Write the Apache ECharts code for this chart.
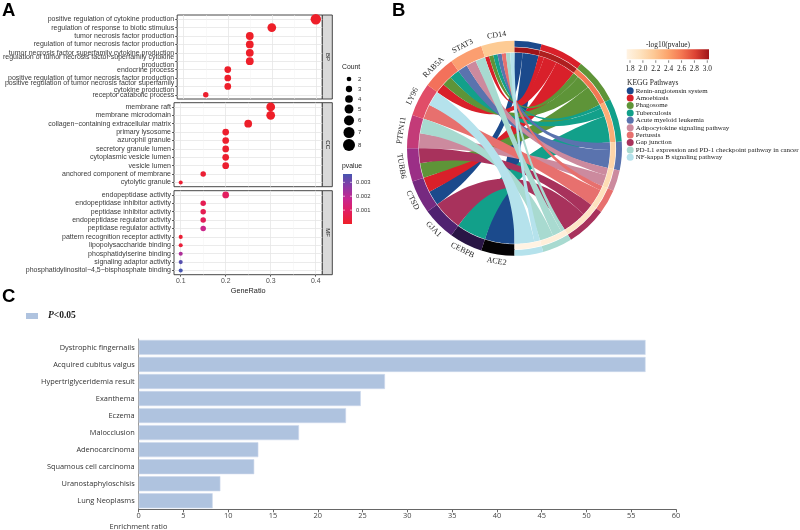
<!DOCTYPE html>
<html><head><meta charset="utf-8">
<script src="https://cdn.jsdelivr.net/npm/echarts@6/dist/echarts.min.js"></script>
<style>html,body{margin:0;padding:0;background:#fff}#c{width:800px;height:530px}</style>
</head><body><div id="c"></div>
<script>
// ================= Panel A data (GO enrichment dot plot) =================
const bpTerms = ['positive regulation of cytokine production','regulation of response to biotic stimulus','tumor necrosis factor production','regulation of tumor necrosis factor production','tumor necrosis factor superfamily cytokine production','regulation of tumor necrosis factor superfamily cytokine\nproduction','endocrine process','positive regulation of tumor necrosis factor production','positive regulation of tumor necrosis factor superfamily\ncytokine production','receptor catabolic process'];
const bpRatio = [0.4,0.3,0.25,0.25,0.25,0.25,0.2,0.2,0.2,0.15];
const bpCount = [8,6,5,5,5,5,4,4,4,3];
const bpP = [0.00001,0.00002,0.00002,0.00002,0.00003,0.00003,0.00004,0.00005,0.00005,0.0001];

const ccTerms = ['membrane raft','membrane microdomain','collagen\u2212containing extracellular matrix','primary lysosome','azurophil granule','secretory granule lumen','cytoplasmic vesicle lumen','vesicle lumen','anchored component of membrane','cytolytic granule'];
const ccRatio = [0.3,0.3,0.25,0.2,0.2,0.2,0.2,0.2,0.15,0.1];
const ccCount = [6,6,5,4,4,4,4,4,3,2];
const ccP = [0.00002,0.00002,0.00004,0.0001,0.0001,0.00012,0.00012,0.00013,0.0002,0.0002];

const mfTerms = ['endopeptidase activity','endopeptidase inhibitor activity','peptidase inhibitor activity','endopeptidase regulator activity','peptidase regulator activity','pattern recognition receptor activity','lipopolysaccharide binding','phosphatidylserine binding','signaling adaptor activity','phosphatidylinositol\u22124,5\u2212bisphosphate binding'];
const mfRatio = [0.2,0.15,0.15,0.15,0.15,0.1,0.1,0.1,0.1,0.1];
const mfCount = [4,3,3,3,3,2,2,2,2,2];
const mfP = [0.0009,0.0007,0.0007,0.0008,0.0017,0.0002,0.0003,0.0022,0.0034,0.0036];

const facetNames = ['BP','CC','MF'];
const geneRatioTicks = [0.1,0.2,0.3,0.4];
const geneRatioMinor = [0.15,0.25,0.35];
const countLegend = [2,3,4,5,6,7,8];
const pLegendTicks = [0.001,0.002,0.003];

// ================= Panel B data (KEGG chord) =================
const pathways = ['Renin-angiotensin system','Amoebiasis','Phagosome','Tuberculosis','Acute myeloid leukemia','Adipocytokine signaling pathway','Pertussis','Gap junction','PD-L1 expression and PD-1 checkpoint pathway in cancer','NF-kappa B signaling pathway'];
const pathwayColors = ['#1B4A8C','#D9202A','#5E9438','#12A08A','#5A73AE','#CC8A9E','#E7706E','#A8325C','#A8DAD0','#B5E2EC'];
const pathwaySize = [0.81,1.31,1.37,1.31,0.86,0.63,0.73,1.22,0.90,0.86];
const pathwayLogP = [3.0,2.95,2.6,2.35,2.1,2.05,2.0,1.95,1.85,1.8];
const genes = ['CD14','STAT3','RAB5A','LY96','PTPN11','TUBB6','CTSD','GJA1','CEBPB','ACE2'];
const geneColors = ['#FDCB94','#FB9E70','#F3715B','#E14D68','#C33B78','#9B2F86','#762A80','#4F2170','#291545','#050305'];
const geneSize = [1,1,1,1,1,1,1,1,1,1];
// pathway indices linked to each gene
const geneLinks = [[1,2,3,4,6,8,9],[4,5,8],[1,2,3],[6,9],[5,8],[2,7],[0,1],[7],[3],[0]];
const logPTicks = [1.8,2.0,2.2,2.4,2.6,2.8,3.0];

// ================= Panel C data (disease enrichment bars) =================
const diseases = ['Dystrophic fingernails','Acquired cubitus valgus','Hypertriglyceridemia result','Exanthema','Eczema','Malocclusion','Adenocarcinoma','Squamous cell carcinoma','Uranostaphyloschisis','Lung Neoplasms'];
const enrichment = [56.6,56.6,27.5,24.8,23.15,17.9,13.36,12.9,9.12,8.26];

// ---------------- helpers ----------------
function hex2rgb(h){h=h.replace('#','');return [parseInt(h.substr(0,2),16),parseInt(h.substr(2,2),16),parseInt(h.substr(4,2),16)];}
function lerpColor(stops, t){
  t=Math.max(0,Math.min(1,t)); const n=stops.length-1; const i=Math.min(n-1,Math.floor(t*n)); const f=t*n-i;
  const a=hex2rgb(stops[i]), b=hex2rgb(stops[i+1]);
  return 'rgb('+a.map((v,k)=>Math.round(v+(b[k]-v)*f)).join(',')+')';
}
const logPColors = ['#FFF3E3','#FEE2BE','#FDC894','#FCA46C','#F47752','#DC4234','#9F1418'];
const logPMin = 1.8, logPMax = 3.0;
const pColors = ['#EE1F28','#E21E5F','#C8278F','#8C3AA6','#4755B0'];
const pMin = 0, pMax = 0.0036;
function dotSize(c){return 4.5*Math.sqrt(c)-2.3;}

// ---------------- panel A layout ----------------
const A_LEFT=174, A_RIGHT=322.3, A_TOPS=[15,102.7,190.7], A_H=84;
const xMin=0.0851, xMax=0.4147;
const grids=[], xAxes=[], yAxes=[], series=[];
const termsAll=[bpTerms,ccTerms,mfTerms], ratioAll=[bpRatio,ccRatio,mfRatio], countAll=[bpCount,ccCount,mfCount], pAll=[bpP,ccP,mfP];
for(let i=0;i<3;i++){
  grids.push({left:A_LEFT, top:A_TOPS[i], width:A_RIGHT-A_LEFT, height:A_H, show:true, borderColor:'#333', borderWidth:0.9, backgroundColor:'#fff'});
  xAxes.push({gridIndex:i, type:'value', min:xMin, max:xMax, position:'bottom',
    axisLine:{show:false},
    axisTick:{show:i===2, length:2, customValues:geneRatioTicks, lineStyle:{color:'#333',width:0.8}},
    axisLabel:{show:i===2, customValues:geneRatioTicks, fontSize:6.9, color:'#4D4D4D', margin:3, fontFamily:'Liberation Sans', formatter:v=>v.toFixed(1)},
    splitLine:{show:true, lineStyle:{color:'#E6E6E6', width:0.8}},
    name: i===2?'GeneRatio':'', nameLocation:'middle', nameGap:13, nameTextStyle:{fontSize:7.3, color:'#222', fontFamily:'Liberation Sans'}
  });
  xAxes.push({gridIndex:i, type:'value', min:xMin, max:xMax, position:'top', show:true,
    axisLine:{show:false}, axisTick:{show:false, customValues:geneRatioMinor}, axisLabel:{show:false, customValues:geneRatioMinor},
    splitLine:{show:true, lineStyle:{color:'#F3F3F3', width:0.5}}
  });
  yAxes.push({gridIndex:i, type:'category', data:termsAll[i], inverse:true,
    axisLine:{show:false},
    axisTick:{show:true, length:2, alignWithLabel:true, lineStyle:{color:'#333',width:0.8}},
    axisLabel:{interval:0, fontSize:7, lineHeight:7.5, color:'#3A3A3A', margin:3, fontFamily:'Liberation Sans'},
    splitLine:{show:true, alignWithLabel:true, lineStyle:{color:'#E6E6E6', width:0.8}}
  });
}
for(let i=0;i<3;i++){
  series.push({type:'scatter', xAxisIndex:i*2, yAxisIndex:i, silent:true,
    data: termsAll[i].map((t,j)=>[ratioAll[i][j], j, pAll[i][j], countAll[i][j]]),
    encode:{x:0,y:1},
    symbolSize: v=>dotSize(v[3]), itemStyle:{opacity:1}
  });
}

// ---------------- panel C ----------------
grids.push({left:138.7, right:124, top:338.9, height:170.4});
xAxes.push({gridIndex:3, type:'value', min:0, max:60, interval:5,
  axisLine:{show:true, lineStyle:{color:'#666', width:1}}, axisTick:{show:true, length:3, lineStyle:{color:'#666'}},
  axisLabel:{fontSize:7.4, color:'#444', margin:3, fontFamily:'Open Sans'}, splitLine:{show:false}});
yAxes.push({gridIndex:3, type:'category', data:diseases, inverse:true,
  axisLine:{show:true, lineStyle:{color:'#999', width:1}}, axisTick:{show:false},
  axisLabel:{interval:0, fontSize:7.4, color:'#333', margin:4, fontFamily:'Open Sans'}});
series.push({type:'bar', name:'P<0.05', xAxisIndex:6, yAxisIndex:3, data:enrichment, barWidth:15, silent:true,
  itemStyle:{color:'#AFC3DF', borderColor:'#CDD9EC', borderWidth:0.6}});

// ---------------- panel B: chord geometry ----------------
const CX=514.5, CY=148.3, R_RIB=95.5;
const total = pathwaySize.reduce((a,b)=>a+b,0)+geneSize.reduce((a,b)=>a+b,0);
const degPer = 360/total;
const pStart=[]; let cum=0;
pathwaySize.forEach((s,i)=>{pStart.push(cum*degPer); cum+=s;});
const gStart=new Array(genes.length);
for(let k=genes.length-1;k>=0;k--){ gStart[k]=cum*degPer; cum+=geneSize[k]; }
const links=[];
genes.forEach((g,gi)=>{
  const ps=geneLinks[gi].slice().sort((a,b)=>a-b);
  const w=geneSize[gi]/ps.length;
  ps.forEach((p,k)=>{ links.push({g:gi,p:p,gw:w,g0:gStart[gi]+k*w*degPer,g1:gStart[gi]+(k+1)*w*degPer}); });
});
pathways.forEach((pn,pi)=>{
  const ls=links.filter(l=>l.p===pi).sort((a,b)=>a.g-b.g);
  const sum=ls.reduce((a,l)=>a+l.gw,0);
  let c=pStart[pi];
  ls.forEach(l=>{ const w=l.gw/sum*pathwaySize[pi]*degPer; l.p0=c; l.p1=c+w; c+=w; });
});
links.sort((a,b)=>a.p-b.p || a.g-b.g);
function pt(th,r){const a=th*Math.PI/180;return [CX+r*Math.sin(a), CY-r*Math.cos(a)];}
function ribbon(l){
  const pts=[], N=30;
  const arc=(a0,a1)=>{for(let i=0;i<=N;i++) pts.push(pt(a0+(a1-a0)*i/N,R_RIB));};
  const bez=(P0,P2)=>{for(let i=1;i<N;i++){const t=i/N,u=1-t;pts.push([u*u*P0[0]+2*u*t*CX+t*t*P2[0], u*u*P0[1]+2*u*t*CY+t*t*P2[1]]);}};
  arc(l.g0,l.g1); bez(pt(l.g1,R_RIB),pt(l.p0,R_RIB)); arc(l.p0,l.p1); bez(pt(l.p1,R_RIB),pt(l.g0,R_RIB));
  return pts;
}
series.push({type:'custom', coordinateSystem:'none', silent:true, z:1,
  data: links.map((l,i)=>[i]),
  renderItem:(params,api)=>{const l=links[params.dataIndex];
    return {type:'polygon', shape:{points:ribbon(l)}, style:{fill:pathwayColors[l.p], stroke:null}};}
});
const cwGenes = genes.map((g,i)=>i).reverse();
const transp='rgba(0,0,0,0)';
series.push({type:'pie', center:[CX,CY], radius:[96,107.5], startAngle:90, clockwise:true, silent:true, label:{show:false}, labelLine:{show:false}, avoidLabelOverlap:false, z:3,
  data: pathways.map((p,i)=>({name:'g_'+i, value:pathwaySize[i], itemStyle:{color:transp}})).concat(
        cwGenes.map(k=>({name:genes[k], value:geneSize[k], itemStyle:{color:geneColors[k]}})))});
series.push({type:'pie', center:[CX,CY], radius:[101.6,107.5], startAngle:90, clockwise:true, silent:true, label:{show:false}, labelLine:{show:false}, avoidLabelOverlap:false, z:3,
  data: pathways.map((p,i)=>({name:p, value:pathwaySize[i], itemStyle:{color:pathwayColors[i]}})).concat(
        cwGenes.map(k=>({name:'o_'+k, value:geneSize[k], itemStyle:{color:transp}})))});
series.push({type:'pie', center:[CX,CY], radius:[96,101], startAngle:90, clockwise:true, silent:true, label:{show:false}, labelLine:{show:false}, avoidLabelOverlap:false, z:3,
  data: pathways.map((p,i)=>({name:'p_'+i, value:pathwaySize[i], itemStyle:{color:lerpColor(logPColors,(pathwayLogP[i]-logPMin)/(logPMax-logPMin))}})).concat(
        cwGenes.map(k=>({name:'q_'+k, value:geneSize[k], itemStyle:{color:transp}})))});
series.push({type:'pie', center:[CX,CY], radius:[108,115], startAngle:90, clockwise:true, silent:true, labelLine:{show:false}, avoidLabelOverlap:false, z:3,
  label:{show:true, position:'inside', rotate:'tangential', fontFamily:'Liberation Serif', fontSize:8, color:'#222'},
  data: pathways.map((p,i)=>({name:'l_'+i, value:pathwaySize[i], itemStyle:{color:transp}, label:{show:false}})).concat(
        cwGenes.map(k=>({name:genes[k], value:geneSize[k], itemStyle:{color:transp}})))});

// ---------------- graphics ----------------
const graphic=[];
[['A',2,1],['B',392,1],['C',2,287]].forEach(([t,x,y])=>graphic.push({type:'text',left:x,top:y,style:{text:t,font:'bold 18.5px "Liberation Sans"',fill:'#000'}}));
for(let i=0;i<3;i++){
  graphic.push({type:'rect',shape:{x:A_RIGHT,y:A_TOPS[i],width:10,height:A_H},style:{fill:'#D9D9D9',stroke:'#333',lineWidth:0.9}});
  graphic.push({type:'text',x:A_RIGHT+5,y:A_TOPS[i]+A_H/2,rotation:-Math.PI/2,style:{text:facetNames[i],font:'6px "Liberation Sans"',fill:'#1A1A1A',align:'center',verticalAlign:'middle'}});
}
graphic.push({type:'text',left:342,top:64,style:{text:'Count',font:'6.8px "Liberation Sans"',fill:'#222'}});
const cntY=[79,89,99,109,120.5,132.5,145];
countLegend.forEach((c,i)=>{
  graphic.push({type:'circle',shape:{cx:349,cy:cntY[i],r:dotSize(c)*1.15/2},style:{fill:'#000'}});
  graphic.push({type:'text',x:358,y:cntY[i],style:{text:String(c),font:'6px "Liberation Sans"',fill:'#333',verticalAlign:'middle'}});
});
graphic.push({type:'text',left:342,top:163,style:{text:'pvalue',font:'6.8px "Liberation Sans"',fill:'#222'}});
const cbX=343, cbTop=174, cbH=50;
graphic.push({type:'rect',shape:{x:cbX,y:cbTop,width:9,height:cbH},style:{fill:new echarts.graphic.LinearGradient(0,1,0,0,pColors.map((c,i)=>({offset:i/(pColors.length-1),color:c})))}});
pLegendTicks.forEach(v=>{const y=cbTop+cbH-(v-pMin)/(pMax-pMin)*cbH;
  graphic.push({type:'line',shape:{x1:cbX,y1:y,x2:cbX+2,y2:y},style:{stroke:'#fff',lineWidth:0.6}});
  graphic.push({type:'line',shape:{x1:cbX+7,y1:y,x2:cbX+9,y2:y},style:{stroke:'#fff',lineWidth:0.6}});
  graphic.push({type:'text',x:356,y:y,style:{text:v.toFixed(3),font:'5.8px "Liberation Sans"',fill:'#333',verticalAlign:'middle'}});
});
const lbX=626.7, lbY=49.3, lbW=82.3, lbH=10, tk0=630, tk1=707.3;
graphic.push({type:'text',x:668,y:45,style:{text:'-log10(pvalue)',font:'7.4px "Liberation Serif"',fill:'#222',align:'center',verticalAlign:'middle'}});
graphic.push({type:'rect',shape:{x:lbX,y:lbY,width:lbW,height:lbH},style:{fill:new echarts.graphic.LinearGradient(0,0,1,0,logPColors.map((c,i)=>({offset:i/(logPColors.length-1),color:c})))}});
logPTicks.forEach(v=>{const x=tk0+(v-logPMin)/(logPMax-logPMin)*(tk1-tk0);
  graphic.push({type:'line',shape:{x1:x,y1:lbY+lbH+1,x2:x,y2:lbY+lbH+3.5},style:{stroke:'#333',lineWidth:0.6}});
  graphic.push({type:'text',x:x,y:69.5,style:{text:v.toFixed(1),font:'7.3px "Liberation Serif"',fill:'#222',align:'center',verticalAlign:'middle'}});
});
graphic.push({type:'text',left:627,top:79,style:{text:'KEGG Pathways',font:'7.5px "Liberation Serif"',fill:'#222'}});
graphic.push({type:'text',x:138.5,y:526.5,style:{text:'Enrichment ratio',font:'7.4px "Open Sans"',fill:'#333',align:'center',verticalAlign:'middle'}});

const option={
  animation:false,
  backgroundColor:'#fff',
  grid:grids, xAxis:xAxes, yAxis:yAxes, series:series, graphic:graphic,
  visualMap:[{type:'continuous', show:false, min:pMin, max:pMax, dimension:2, seriesIndex:[0,1,2], inRange:{color:pColors}}],
  legend:[
    {data:pathways, orient:'vertical', left:626.7, top:87.2, padding:0, itemWidth:7, itemHeight:7, itemGap:0.4, icon:'circle', selectedMode:false,
     textStyle:{fontFamily:'Liberation Serif', fontSize:6.95, color:'#222', padding:[0,0,0,-3]}},
    {data:['P<0.05'], left:26, top:311, padding:0, itemWidth:12, itemHeight:6, icon:'rect', selectedMode:false, itemStyle:{borderWidth:0},
     formatter:()=>'{i|P}{n|<0.05}',
     textStyle:{padding:[0,0,0,5], rich:{i:{fontFamily:'Liberation Serif',fontStyle:'italic',fontWeight:'bold',fontSize:9.5,color:'#222'},n:{fontFamily:'Liberation Serif',fontWeight:'bold',fontSize:9.5,color:'#222'}}}}
  ]
};
const chart=echarts.init(document.getElementById('c'));
chart.setOption(option);
</script></body></html>
